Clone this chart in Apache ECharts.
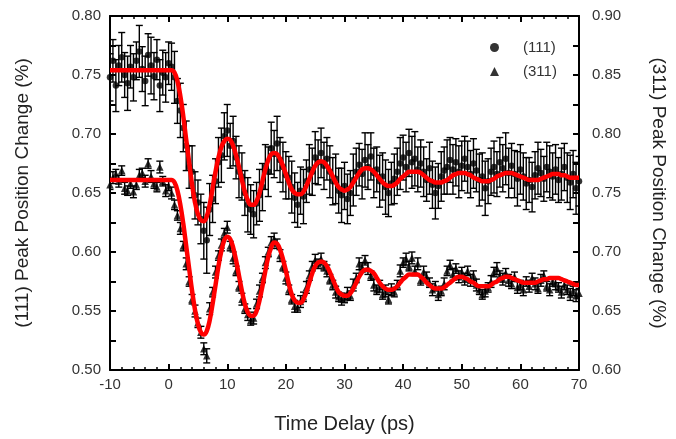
<!DOCTYPE html>
<html>
<head>
<meta charset="utf-8">
<script src="https://cdn.jsdelivr.net/npm/echarts@6/dist/echarts.min.js"></script>
<style>html,body{margin:0;padding:0;background:#fff}#c{width:676px;height:439px}</style>
</head>
<body>
<div id="c"></div>
<script>
const times = [
-10,-9.5,-9,-8.5,-8,-7.5,-7,-6.5,-6,-5.5,
-5,-4.5,-4,-3.5,-3,-2.5,-2,-1.5,-1,-0.5,
0,0.5,1,1.5,2,2.5,3,3.5,4,4.5,
5,5.5,6,6.5,7,7.5,8,8.5,9,9.5,
10,10.5,11,11.5,12,12.5,13,13.5,14,14.5,
15,15.5,16,16.5,17,17.5,18,18.5,19,19.5,
20,20.5,21,21.5,22,22.5,23,23.5,24,24.5,
25,25.5,26,26.5,27,27.5,28,28.5,29,29.5,
30,30.5,31,31.5,32,32.5,33,33.5,34,34.5,
35,35.5,36,36.5,37,37.5,38,38.5,39,39.5,
40,40.5,41,41.5,42,42.5,43,43.5,44,44.5,
45,45.5,46,46.5,47,47.5,48,48.5,49,49.5,
50,50.5,51,51.5,52,52.5,53,53.5,54,54.5,
55,55.5,56,56.5,57,57.5,58,58.5,59,59.5,
60,60.5,61,61.5,62,62.5,63,63.5,64,64.5,
65,65.5,66,66.5,67,67.5,68,68.5,69,69.5,
70];

// (111) peak position change (%), left axis
const val111 = [
0.748,0.762,0.741,0.758,0.765,0.750,0.743,0.757,0.748,0.762,
0.770,0.755,0.745,0.767,0.758,0.749,0.763,0.741,0.752,0.748,
0.760,0.757,0.748,0.728,0.720,0.705,0.690,0.672,0.668,0.648,
0.642,0.628,0.618,0.610,0.636,0.645,0.660,0.676,0.682,0.698,
0.703,0.690,0.694,0.680,0.668,0.664,0.650,0.640,0.636,0.632,
0.641,0.648,0.655,0.672,0.668,0.688,0.683,0.692,0.678,0.672,
0.665,0.663,0.655,0.646,0.640,0.652,0.647,0.660,0.670,0.668,
0.680,0.676,0.684,0.673,0.679,0.668,0.660,0.662,0.652,0.648,
0.656,0.645,0.650,0.661,0.668,0.674,0.666,0.678,0.672,0.681,
0.667,0.670,0.660,0.664,0.655,0.650,0.658,0.662,0.668,0.675,
0.680,0.672,0.684,0.676,0.679,0.670,0.675,0.668,0.661,0.671,
0.657,0.650,0.656,0.664,0.669,0.672,0.678,0.670,0.676,0.668,
0.673,0.679,0.672,0.666,0.675,0.669,0.661,0.664,0.654,0.660,
0.668,0.672,0.666,0.676,0.671,0.679,0.667,0.673,0.666,0.662,
0.670,0.664,0.658,0.661,0.655,0.665,0.671,0.667,0.662,0.672,
0.668,0.664,0.670,0.661,0.666,0.672,0.663,0.659,0.666,0.654,
0.660];

const err111 = [
0.020,0.018,0.022,0.017,0.021,0.019,0.023,0.018,0.020,0.016,
0.022,0.019,0.021,0.018,0.024,0.020,0.017,0.022,0.019,0.021,
0.018,0.020,0.022,0.019,0.023,0.020,0.021,0.018,0.022,0.020,
0.019,0.021,0.024,0.028,0.022,0.020,0.019,0.021,0.023,0.020,
0.022,0.019,0.021,0.018,0.022,0.020,0.019,0.023,0.021,0.020,
0.018,0.022,0.020,0.019,0.021,0.022,0.020,0.023,0.019,0.021,
0.020,0.018,0.022,0.021,0.019,0.020,0.023,0.018,0.021,0.020,
0.022,0.019,0.021,0.020,0.018,0.022,0.020,0.021,0.019,0.023,
0.020,0.021,0.019,0.022,0.020,0.018,0.021,0.023,0.019,0.020,
0.021,0.019,0.022,0.020,0.023,0.020,0.018,0.021,0.020,0.022,
0.019,0.021,0.020,0.022,0.023,0.019,0.020,0.021,0.018,0.022,
0.020,0.022,0.019,0.021,0.020,0.023,0.019,0.021,0.020,0.022,
0.021,0.019,0.022,0.020,0.021,0.018,0.022,0.020,0.023,0.019,
0.020,0.022,0.019,0.021,0.020,0.022,0.021,0.019,0.020,0.023,
0.021,0.020,0.022,0.019,0.021,0.020,0.022,0.020,0.019,0.021,
0.022,0.020,0.021,0.019,0.022,0.020,0.021,0.023,0.020,0.022,
0.021];

const fit111 = [
0.754,0.754,0.754,0.754,0.754,0.754,0.754,0.754,0.754,0.754,
0.754,0.754,0.754,0.754,0.754,0.754,0.754,0.754,0.754,0.754,
0.754,0.754,0.752,0.745,0.732,0.715,0.695,0.676,0.657,0.642,
0.632,0.627,0.626,0.630,0.640,0.654,0.668,0.680,0.689,0.694,
0.696,0.695,0.690,0.682,0.672,0.661,0.651,0.644,0.640,0.640,
0.643,0.650,0.660,0.670,0.678,0.683,0.684,0.683,0.679,0.673,
0.666,0.659,0.653,0.650,0.649,0.649,0.651,0.656,0.662,0.668,
0.673,0.676,0.677,0.676,0.673,0.669,0.664,0.659,0.655,0.653,
0.652,0.653,0.655,0.659,0.663,0.667,0.670,0.671,0.671,0.670,
0.668,0.665,0.662,0.659,0.657,0.656,0.656,0.657,0.659,0.662,
0.664,0.666,0.668,0.668,0.668,0.668,0.667,0.665,0.663,0.661,
0.660,0.659,0.659,0.659,0.660,0.661,0.663,0.665,0.666,0.667,
0.667,0.667,0.666,0.665,0.663,0.662,0.661,0.660,0.660,0.660,
0.661,0.662,0.664,0.665,0.666,0.667,0.667,0.667,0.666,0.665,
0.664,0.663,0.662,0.661,0.661,0.661,0.661,0.662,0.663,0.664,
0.665,0.666,0.666,0.666,0.665,0.665,0.664,0.663,0.663,0.663,
0.663];

// (311) peak position change (%), right axis
const val311 = [
0.757,0.763,0.766,0.760,0.769,0.754,0.752,0.758,0.751,0.757,
0.765,0.767,0.760,0.775,0.764,0.758,0.755,0.772,0.760,0.752,
0.756,0.750,0.740,0.731,0.720,0.705,0.690,0.675,0.660,0.650,
0.640,0.632,0.618,0.612,0.652,0.666,0.683,0.697,0.706,0.716,
0.721,0.705,0.695,0.684,0.671,0.660,0.652,0.647,0.642,0.644,
0.656,0.667,0.678,0.691,0.700,0.708,0.711,0.707,0.697,0.688,
0.678,0.668,0.660,0.654,0.653,0.658,0.662,0.670,0.680,0.688,
0.693,0.690,0.694,0.688,0.684,0.677,0.672,0.666,0.662,0.660,
0.661,0.665,0.663,0.672,0.678,0.690,0.687,0.693,0.686,0.680,
0.672,0.668,0.671,0.664,0.667,0.660,0.668,0.666,0.672,0.684,
0.691,0.694,0.688,0.695,0.684,0.690,0.676,0.683,0.679,0.674,
0.668,0.671,0.664,0.667,0.673,0.684,0.689,0.681,0.686,0.679,
0.683,0.677,0.684,0.676,0.680,0.672,0.668,0.664,0.667,0.670,
0.675,0.683,0.686,0.680,0.677,0.682,0.676,0.673,0.679,0.670,
0.672,0.668,0.675,0.671,0.678,0.673,0.669,0.676,0.680,0.671,
0.668,0.675,0.673,0.670,0.666,0.672,0.668,0.664,0.667,0.663,
0.665];

const err311 = [
0.004,0.005,0.004,0.005,0.004,0.005,0.004,0.004,0.005,0.004,
0.005,0.004,0.005,0.004,0.005,0.004,0.004,0.005,0.004,0.005,
0.004,0.005,0.004,0.004,0.005,0.004,0.005,0.004,0.004,0.005,
0.004,0.005,0.005,0.006,0.005,0.004,0.005,0.004,0.005,0.004,
0.005,0.004,0.005,0.004,0.004,0.005,0.004,0.005,0.004,0.005,
0.004,0.005,0.004,0.005,0.004,0.005,0.005,0.004,0.005,0.004,
0.005,0.004,0.004,0.005,0.004,0.005,0.004,0.005,0.004,0.004,
0.005,0.004,0.005,0.004,0.005,0.004,0.004,0.005,0.004,0.005,
0.004,0.005,0.004,0.005,0.004,0.005,0.004,0.004,0.005,0.004,
0.005,0.004,0.005,0.004,0.005,0.004,0.005,0.004,0.004,0.005,
0.004,0.005,0.004,0.005,0.004,0.005,0.004,0.005,0.004,0.004,
0.005,0.004,0.005,0.004,0.005,0.004,0.004,0.005,0.004,0.005,
0.004,0.005,0.004,0.005,0.004,0.005,0.004,0.004,0.005,0.004,
0.005,0.004,0.005,0.004,0.005,0.004,0.005,0.004,0.004,0.005,
0.004,0.005,0.004,0.005,0.004,0.005,0.004,0.005,0.004,0.004,
0.005,0.004,0.005,0.004,0.005,0.004,0.004,0.005,0.004,0.005,
0.004];

const fit311 = [
0.761,0.761,0.761,0.761,0.761,0.761,0.761,0.761,0.761,0.761,
0.761,0.761,0.761,0.761,0.761,0.761,0.761,0.761,0.761,0.761,
0.761,0.761,0.759,0.752,0.740,0.724,0.705,0.686,0.667,0.651,
0.639,0.632,0.630,0.633,0.642,0.656,0.672,0.688,0.701,0.710,
0.713,0.711,0.704,0.693,0.680,0.667,0.656,0.649,0.646,0.646,
0.650,0.659,0.671,0.684,0.696,0.704,0.708,0.707,0.702,0.694,
0.684,0.673,0.664,0.659,0.657,0.657,0.660,0.666,0.674,0.682,
0.688,0.691,0.692,0.691,0.688,0.683,0.677,0.671,0.666,0.664,
0.663,0.663,0.665,0.669,0.674,0.679,0.683,0.685,0.685,0.684,
0.682,0.678,0.674,0.671,0.669,0.668,0.668,0.669,0.671,0.674,
0.677,0.679,0.681,0.681,0.681,0.681,0.679,0.677,0.674,0.672,
0.670,0.669,0.669,0.669,0.670,0.672,0.674,0.676,0.678,0.679,
0.679,0.678,0.677,0.675,0.674,0.672,0.671,0.671,0.671,0.671,
0.672,0.674,0.675,0.677,0.678,0.679,0.679,0.678,0.677,0.676,
0.675,0.674,0.674,0.674,0.674,0.674,0.675,0.676,0.677,0.677,
0.678,0.678,0.678,0.678,0.677,0.676,0.675,0.674,0.673,0.672,
0.672];

const xTicks = [-10, 70, 10];
const yLeft = [0.50, 0.80, 0.05];
const yRight = [0.60, 0.90, 0.05];

const FONT = 'Liberation Sans';
const pts = (v) => times.map((t, i) => [t, v[i]]);
const bars = (v, e) => times.map((t, i) => [t, v[i] - e[i], v[i] + e[i]]);

function errRender(params, api) {
  const x = api.value(0);
  const p1 = api.coord([x, api.value(1)]);
  const p2 = api.coord([x, api.value(2)]);
  const w = 3.5;
  const st = { stroke: '#000', lineWidth: 1.4 };
  return {
    type: 'group',
    children: [
      { type: 'line', shape: { x1: p1[0], y1: p1[1], x2: p2[0], y2: p2[1] }, style: st },
      { type: 'line', shape: { x1: p1[0] - w, y1: p1[1], x2: p1[0] + w, y2: p1[1] }, style: st },
      { type: 'line', shape: { x1: p2[0] - w, y1: p2[1], x2: p2[0] + w, y2: p2[1] }, style: st }
    ]
  };
}

const axisLineStyle = { color: '#000', width: 2 };
const labelStyle = { color: '#333', fontFamily: FONT, fontSize: 15 };

const chart = echarts.init(document.getElementById('c'), null, { renderer: 'canvas' });
chart.setOption({
  backgroundColor: '#fff',
  animation: false,
  grid: { left: 110, right: 92, top: 16, bottom: 68 },
  legend: {
    orient: 'vertical', left: 485, top: 35, itemWidth: 9, itemHeight: 9, itemGap: 9,
    textStyle: { color: '#333', fontFamily: FONT, fontSize: 15, padding: [0, 0, 0, 19] },
    data: [{ name: '(111)', icon: 'circle' }, { name: '(311)', icon: 'triangle' }]
  },
  xAxis: [
    {
      type: 'value', min: xTicks[0], max: xTicks[1], interval: xTicks[2], position: 'bottom',
      name: 'Time Delay (ps)', nameLocation: 'middle', nameGap: 44,
      nameTextStyle: { color: '#222', fontFamily: FONT, fontSize: 20 },
      axisLine: { onZero: false, lineStyle: axisLineStyle },
      axisTick: { inside: true, length: 6, lineStyle: { color: '#000', width: 2 } },
      minorTick: { show: true, splitNumber: 5, length: 3, lineStyle: { color: '#000', width: 1.5 } },
      axisLabel: Object.assign({ margin: 7 }, labelStyle),
      splitLine: { show: false }
    },
    {
      type: 'value', min: xTicks[0], max: xTicks[1], interval: xTicks[2], position: 'top',
      axisLine: { onZero: false, lineStyle: axisLineStyle },
      axisTick: { inside: true, length: 6, lineStyle: { color: '#000', width: 2 } },
      minorTick: { show: true, splitNumber: 5, length: 3, lineStyle: { color: '#000', width: 1.5 } },
      axisLabel: { show: false },
      splitLine: { show: false }
    }
  ],
  yAxis: [
    {
      type: 'value', min: yLeft[0], max: yLeft[1], interval: yLeft[2], position: 'left',
      name: '(111) Peak Position Change (%)', nameLocation: 'middle', nameGap: 78,
      nameTextStyle: { color: '#222', fontFamily: FONT, fontSize: 19 },
      axisLine: { show: true, onZero: false, lineStyle: axisLineStyle },
      axisTick: { show: true, inside: true, length: 6, lineStyle: { color: '#000', width: 2 } },
      minorTick: { show: true, splitNumber: 2, length: 6, lineStyle: { color: '#000', width: 2 } },
      axisLabel: Object.assign({ margin: 9, formatter: v => v.toFixed(2) }, labelStyle),
      splitLine: { show: false }
    },
    {
      type: 'value', min: yRight[0], max: yRight[1], interval: yRight[2], position: 'right',
      name: '(311) Peak Position Change (%)', nameLocation: 'middle', nameGap: 70, nameRotate: -90,
      nameTextStyle: { color: '#222', fontFamily: FONT, fontSize: 19 },
      axisLine: { show: true, onZero: false, lineStyle: axisLineStyle },
      axisTick: { show: true, inside: true, length: 6, lineStyle: { color: '#000', width: 2 } },
      minorTick: { show: true, splitNumber: 2, length: 6, lineStyle: { color: '#000', width: 2 } },
      axisLabel: Object.assign({ margin: 13, formatter: v => v.toFixed(2) }, labelStyle),
      splitLine: { show: false }
    }
  ],
  series: [
    { type: 'custom', name: 'err111', xAxisIndex: 0, yAxisIndex: 0, renderItem: errRender,
      data: bars(val111, err111), encode: { x: 0, y: [1, 2] }, clip: true, silent: true, z: 2 },
    { type: 'custom', name: 'err311', xAxisIndex: 0, yAxisIndex: 1, renderItem: errRender,
      data: bars(val311, err311), encode: { x: 0, y: [1, 2] }, clip: true, silent: true, z: 2 },
    { type: 'scatter', name: '(111)', xAxisIndex: 0, yAxisIndex: 0, symbol: 'circle', symbolSize: 6.5,
      itemStyle: { color: '#000' }, data: pts(val111), clip: true, z: 3 },
    { type: 'scatter', name: '(311)', xAxisIndex: 0, yAxisIndex: 1, symbol: 'triangle', symbolSize: 7.5,
      itemStyle: { color: '#000' }, data: pts(val311), clip: true, z: 3 },
    { type: 'line', name: 'fit111', xAxisIndex: 0, yAxisIndex: 0, data: pts(fit111), smooth: 0.4,
      showSymbol: false, lineStyle: { color: '#ff0000', width: 4.5 }, itemStyle: { color: '#ff0000' }, z: 4 },
    { type: 'line', name: 'fit311', xAxisIndex: 0, yAxisIndex: 1, data: pts(fit311), smooth: 0.4,
      showSymbol: false, lineStyle: { color: '#ff0000', width: 4.5 }, itemStyle: { color: '#ff0000' }, z: 4 }
  ]
});
</script>
</body>
</html>
